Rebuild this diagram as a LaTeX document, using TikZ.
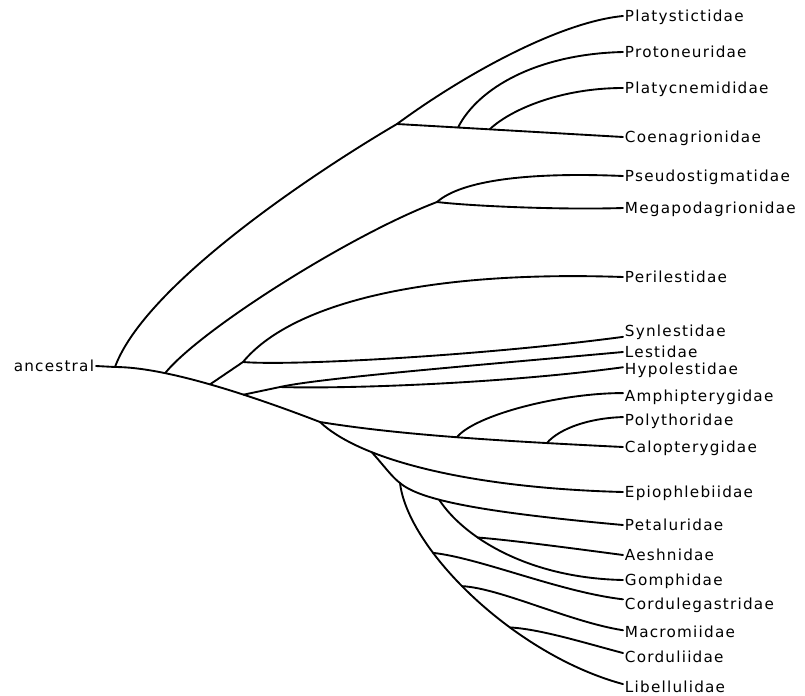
\documentclass[tikz,border=0pt]{standalone}
\usepackage{fontspec}
\setmainfont{DejaVu Sans}[LetterSpace=8]
\begin{document}
\begin{tikzpicture}[x=0.03cm, y=-0.03cm,
    branch/.style={line width=1.6pt, line cap=round, line join=round},
    leaf/.style={anchor=west, inner sep=1.5pt, text height=9.5pt, text depth=0pt,
                 font=\fontsize{13}{15}\selectfont}]
    \useasboundingbox (0,0) rectangle (805,696);

    % family names
    \foreach \n/\y/\t in {platy/16/Platystictidae, proto/52/Protoneuridae,
        platyc/88/Platycnemididae, coen/137/Coenagrionidae,
        pseudo/176/Pseudostigmatidae, mega/208/Megapodagrionidae,
        peri/277/Perilestidae, synl/331/Synlestidae, lest/352/Lestidae,
        hypo/369/Hypolestidae, amph/396/Amphipterygidae, poly/420/Polythoridae,
        calo/447/Calopterygidae, epio/492/Epiophlebiidae, peta/525/Petaluridae,
        aesh/555/Aeshnidae, gomph/580/Gomphidae, cordg/604/Cordulegastridae,
        macro/632/Macromiidae, cordl/657/Corduliidae, libel/687/Libellulidae}
        \node[leaf] (\n) at (623,\y) {\t};
    \node[leaf, anchor=east] (anc) at (96,366) {ancestral};

    % branch points
    \coordinate (r0) at (115,367);
    \coordinate (n1) at (397,124);
    \coordinate (n2) at (437,202);
    \coordinate (n3) at (243,362);
    \coordinate (n4) at (280,387);
    \coordinate (b5) at (320,422);
    \coordinate (n9) at (400,483);

    % main stem
    \draw[branch] (anc.east) -- (r0) .. controls (165,367) and (250,395) .. (b5)
        coordinate[pos=0.285] (b2) coordinate[pos=0.5] (b3) coordinate[pos=0.652] (b4);
    \draw[branch] (b5) .. controls (400,435) and (500,441) .. (calo.west)
        coordinate[pos=0.505] (n6) coordinate[pos=0.785] (n7);

    % Zygoptera
    \draw[branch] (r0) .. controls (145,285) and (315,172) .. (n1);
    \draw[branch] (n1) .. controls (465,74) and (560,22) .. (platy.west);
    \draw[branch] (n1) -- (coen.west) coordinate[pos=0.27] (c1) coordinate[pos=0.41] (c2);
    \draw[branch] (c1) .. controls (478,88) and (537,54) .. (proto.west);
    \draw[branch] (c2) .. controls (510,110) and (560,88) .. (platyc.west);
    \draw[branch] (b2) .. controls (200,330) and (350,235) .. (n2);
    \draw[branch] (n2) .. controls (462,180) and (530,172) .. (pseudo.west);
    \draw[branch] (n2) .. controls (470,206) and (560,210) .. (mega.west);
    \draw[branch] (b3) -- (n3) .. controls (290,305) and (420,270) .. (peri.west);
    \draw[branch] (n3) .. controls (290,366) and (480,356) .. ([yshift=-5pt]synl.west);
    \draw[branch] (b4) -- (n4) .. controls (320,378) and (480,365) .. (lest.west);
    \draw[branch] (n4) .. controls (340,389) and (500,384) .. ([yshift=1.5pt]hypo.west);
    \draw[branch] (n6) .. controls (475,415) and (560,393) .. ([yshift=2.5pt]amph.west);
    \draw[branch] (n7) .. controls (560,428) and (590,418) .. ([yshift=2.5pt]poly.west);

    % Anisoptera
    \draw[branch] (b5) .. controls (360,460) and (470,488) .. (epio.west) coordinate[pos=0.29] (n8);
    \draw[branch] (n8) .. controls (385,467) and (392,477) .. (n9);
    \draw[branch] (n9) .. controls (420,500) and (480,512) .. (peta.west) coordinate[pos=0.36] (n10);
    \draw[branch] (n9) .. controls (408,550) and (515,655) .. ([yshift=2.5pt]libel.west)
        coordinate[pos=0.31] (m1) coordinate[pos=0.45] (m2) coordinate[pos=0.635] (m3);
    \draw[branch] (n10) .. controls (462,535) and (525,578) .. (gomph.west) coordinate[pos=0.35] (n11);
    \draw[branch] (n11) .. controls (510,540) and (570,548) .. (aesh.west);
    \draw[branch] (m1) .. controls (480,558) and (560,592) .. ([yshift=4pt]cordg.west);
    \draw[branch] (m2) .. controls (500,588) and (570,622) .. ([yshift=1.5pt]macro.west);
    \draw[branch] (m3) .. controls (540,629) and (585,643) .. ([yshift=3.4pt]cordl.west);

\end{tikzpicture}
\end{document}
